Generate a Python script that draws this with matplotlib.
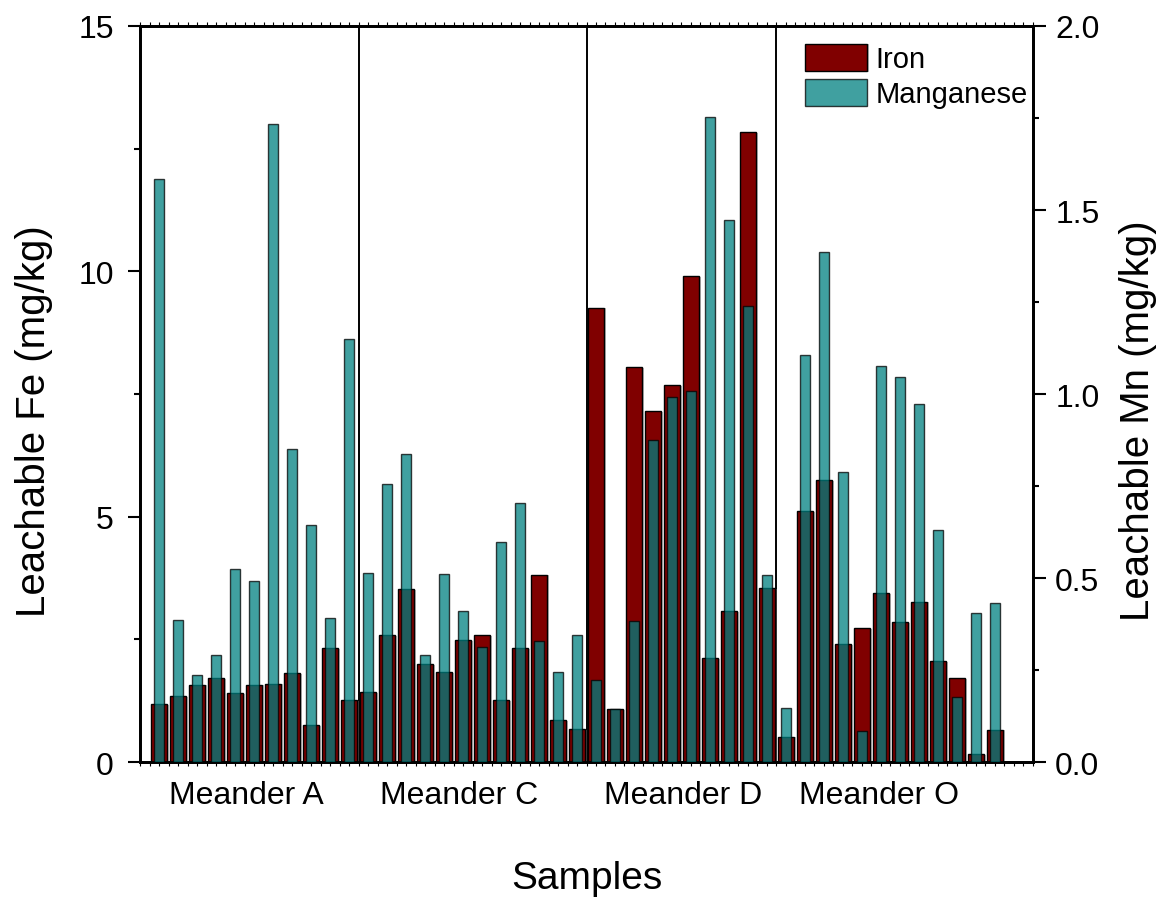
"""
Leachable iron and manganese per sample, grouped by meander.
Fe bars on the left axis, Mn bars (translucent, narrower) on the right axis.
"""

import matplotlib

matplotlib.use("Agg")
import matplotlib.pyplot as plt
import matplotlib.patheffects as pe
from matplotlib.ticker import MultipleLocator, FixedLocator

plt.rcParams["font.family"] = ["Liberation Sans", "DejaVu Sans"]

GROUPS = ["Meander A", "Meander C", "Meander D", "Meander O"]

# leachable Fe (mg/kg), one value per sample
FE_A = [1.18, 1.35, 1.58, 1.71, 1.41, 1.58, 1.60, 1.82, 0.75, 2.32, 1.27]
FE_C = [1.42, 2.58, 3.52, 2.00, 1.83, 2.49, 2.59, 1.26, 2.32, 3.82, 0.86, 0.68]
FE_D = [9.26, 1.08, 8.05, 7.15, 7.69, 9.91, 2.12, 3.08, 12.84, 3.55]
FE_O = [0.52, 5.12, 5.74, 2.40, 2.73, 3.44, 2.86, 3.27, 2.05, 1.71, 0.17, 0.66]

# leachable Mn (mg/kg), same samples
MN_A = [1.585, 0.387, 0.237, 0.292, 0.525, 0.493, 1.734, 0.850, 0.645, 0.392, 1.150]
MN_C = [0.514, 0.755, 0.838, 0.290, 0.511, 0.410, 0.312, 0.599, 0.705, 0.330, 0.245, 0.344]
MN_D = [0.223, 0.144, 0.383, 0.874, 0.991, 1.007, 1.753, 1.473, 1.240, 0.507]
MN_O = [0.147, 1.107, 1.387, 0.788, 0.084, 1.077, 1.047, 0.973, 0.630, 0.177, 0.406, 0.433]

IRON = "#800000"
MANGANESE = "#008080"


def main():
    fe_groups = [FE_A, FE_C, FE_D, FE_O]
    mn_groups = [MN_A, MN_C, MN_D, MN_O]
    fe = [v for g in fe_groups for v in g]
    mn = [v for g in mn_groups for v in g]
    x = list(range(1, len(fe) + 1))

    # boundaries between meanders sit half way between samples
    sizes = [len(g) for g in fe_groups]
    bounds = []
    n = 0
    for s in sizes[:-1]:
        n += s
        bounds.append(n + 0.5)

    fig = plt.figure(figsize=(11.73, 9.03), dpi=100)
    ax = fig.add_axes([0.1194, 0.155, 0.7612, 0.8151])
    ax2 = ax.twinx()

    shadow = [pe.SimplePatchShadow(offset=(1.5, -0.6), shadow_rgbFace="#808080", alpha=0.5),
              pe.Normal()]
    fe_bars = ax.bar(x, fe, width=0.82, color=IRON, edgecolor="black",
                     linewidth=1.0, zorder=3, label="Iron")
    for b in fe_bars:
        b.set_path_effects(shadow)
    mn_bars = ax2.bar(x, mn, width=0.5, color=MANGANESE, alpha=0.75,
                      edgecolor="black", linewidth=1.0, zorder=3, label="Manganese")

    for bx in bounds:
        ax.axvline(bx, color="black", linewidth=1.4, zorder=2)

    ax.set_xlim(0, len(fe) + 2)
    ax.set_ylim(0, 15)
    ax2.set_ylim(0, 2.0)

    ax.yaxis.set_major_locator(MultipleLocator(5))
    ax.yaxis.set_minor_locator(MultipleLocator(2.5))
    ax2.yaxis.set_major_locator(MultipleLocator(0.5))
    ax2.yaxis.set_minor_locator(MultipleLocator(0.25))
    ax2.yaxis.set_major_formatter(matplotlib.ticker.FormatStrFormatter("%.1f"))

    # group names sit under each meander, small ticks every half sample
    ax.xaxis.set_major_locator(FixedLocator([5.6, 16.8, 28.6, 38.9]))
    ax.set_xticklabels(GROUPS)
    ax.xaxis.set_minor_locator(MultipleLocator(0.5))
    ax.tick_params(axis="x", which="major", length=0, pad=13, labelsize=23)
    ax.tick_params(axis="x", which="minor", length=3, width=0.8,
                   direction="out", top=True, bottom=True)
    ax.tick_params(axis="y", which="major", length=9, width=1.5, labelsize=23, pad=10)
    ax.tick_params(axis="y", which="minor", length=4.5, width=1.5)
    ax2.tick_params(axis="y", which="major", length=9, width=1.5, labelsize=23, pad=7)
    ax2.tick_params(axis="y", which="minor", length=4.5, width=1.5)

    for a in (ax, ax2):
        for sp in a.spines.values():
            sp.set_linewidth(2)

    ax.set_ylabel("Leachable Fe (mg/kg)", fontsize=29, va="center")
    ax.yaxis.set_label_coords(-0.119, 0.465)
    ax2.set_ylabel("Leachable Mn (mg/kg)", fontsize=29, va="center", rotation=90)
    ax2.yaxis.set_label_coords(1.1176, 0.465)
    ax.set_xlabel("Samples", fontsize=28, va="center")
    ax.xaxis.set_label_coords(0.5, -0.158)

    ax2.legend([fe_bars, mn_bars], ["Iron", "Manganese"], loc="upper left",
               bbox_to_anchor=(0.745, 0.976), frameon=False, fontsize=21,
               borderaxespad=0, borderpad=0, handlelength=2.1, handleheight=1.05,
               handletextpad=0.3, labelspacing=0.2)

    fig.savefig("out.png")


if __name__ == "__main__":
    main()
